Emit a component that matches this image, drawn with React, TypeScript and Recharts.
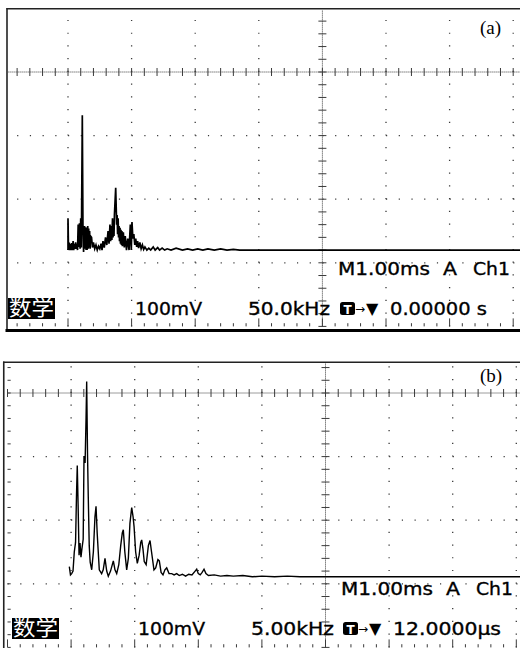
import React from 'react';
import { ComposedChart, Line, XAxis, YAxis, ReferenceLine } from 'recharts';

// horizontal position in screen divisions (0..10), level in divisions from the centre line
const freqA = [
  1.0, 1.0, 1.008, 1.02, 1.03, 1.04, 1.05, 1.06, 1.07, 1.08, 1.09, 1.1, 1.11, 1.12, 1.13, 1.14, 1.15, 1.16,
  1.17, 1.18, 1.19, 1.2, 1.21, 1.225, 1.235, 1.245, 1.255, 1.26, 1.27, 1.278, 1.285, 1.293, 1.3, 1.31,
  1.318, 1.325, 1.333, 1.34, 1.348, 1.355, 1.37, 1.385, 1.4, 1.42, 1.44, 1.46, 1.48, 1.5, 1.52, 1.535,
  1.55, 1.57, 1.59, 1.61, 1.63, 1.645, 1.66, 1.67, 1.68, 1.69, 1.7, 1.708, 1.715, 1.723, 1.73, 1.75,
  1.765, 1.772, 1.78, 1.788, 1.795, 1.803, 1.81, 1.818, 1.825, 1.833, 1.84, 1.848, 1.855, 1.87, 1.885,
  1.9, 1.92, 1.94, 1.96, 1.98, 1.995, 2.006, 2.02, 2.035, 2.05, 2.065, 2.08, 2.095, 2.11, 2.13, 2.15,
  2.17, 2.19, 2.21, 2.24, 2.27, 2.3, 2.34, 2.37, 2.41, 2.44, 2.48, 2.52, 2.56, 2.62, 2.7, 2.8,
  2.88, 2.96, 3.04, 3.12, 3.2, 3.3, 3.4, 3.5, 3.6, 3.7, 10,
];
const levelA = [
  -2.8, -2.3, -2.8, -2.68, -2.8, -2.7, -2.8, -2.69, -2.8, -2.66, -2.8, -2.7, -2.78, -2.68, -2.78, -2.7, -2.8, -2.4,
  -2.75, -2.38, -2.78, -2.3, -2.76, -0.68, -2.4, -2.83, -2.5, -2.42, -2.78, -2.44, -2.8, -2.45, -2.8, -2.42,
  -2.78, -2.46, -2.76, -2.5, -2.78, -2.58, -2.6, -2.76, -2.68, -2.78, -2.72, -2.8, -2.74, -2.78, -2.7, -2.8,
  -2.66, -2.76, -2.6, -2.72, -2.5, -2.7, -2.4, -2.66, -2.42, -2.64, -2.3, -2.6, -2.35, -2.58, -2.25, -1.82,
  -2.4, -2.25, -2.55, -2.3, -2.6, -2.42, -2.66, -2.45, -2.7, -2.48, -2.72, -2.5, -2.74, -2.52, -2.76,
  -2.58, -2.8, -2.62, -2.8, -2.4, -2.8, -2.36, -2.62, -2.55, -2.72, -2.62, -2.75, -2.66, -2.77, -2.68, -2.78,
  -2.72, -2.79, -2.75, -2.8, -2.77, -2.8, -2.75, -2.8, -2.76, -2.8, -2.77, -2.8, -2.78, -2.8, -2.77, -2.8,
  -2.78, -2.8, -2.78, -2.8, -2.78, -2.8, -2.78, -2.8, -2.79, -2.8, -2.8,
];

const freqB = [
  0.972, 0.99, 1.009, 1.03, 1.05, 1.07, 1.085, 1.097, 1.11, 1.125, 1.14, 1.155, 1.17, 1.19, 1.203,
  1.22, 1.235, 1.245, 1.258, 1.27, 1.285, 1.3, 1.324, 1.35, 1.375, 1.392, 1.41, 1.443, 1.48, 1.505,
  1.533, 1.56, 1.585, 1.62, 1.664, 1.69, 1.717, 1.75, 1.78, 1.805, 1.821, 1.845, 1.874, 1.9, 1.925,
  1.953, 1.975, 1.99, 2.015, 2.041, 2.07, 2.095, 2.11, 2.13, 2.15, 2.18, 2.215, 2.241, 2.265, 2.303,
  2.33, 2.365, 2.387, 2.415, 2.445, 2.475, 2.503, 2.54, 2.582, 2.62, 2.66, 2.7, 2.75, 2.8, 2.85,
  2.9, 2.95, 2.975, 3.0, 3.03, 3.06, 3.09, 3.12, 3.16, 3.25, 3.35, 3.45, 3.55, 3.7, 3.85, 4.0,
  4.2, 4.4, 4.6, 4.85, 10,
];
const levelB = [
  -2.73, -2.86, -2.84, -2.8, -2.5, -2.35, -1.6, -1.14, -1.75, -2.55, -2.36, -2.58, -2.45, -2.3, -0.99,
  -1.1, -0.4, 0.18, -0.95, -1.63, -2.4, -2.66, -2.78, -2.5, -1.95, -1.78, -2.2, -2.78, -2.84, -2.78,
  -2.6, -2.8, -2.88, -2.8, -2.64, -2.78, -2.84, -2.7, -2.4, -2.2, -2.15, -2.5, -2.78, -2.6, -2.05,
  -1.8, -1.95, -2.1, -2.5, -2.68, -2.55, -2.35, -2.31, -2.45, -2.65, -2.7, -2.4, -2.32, -2.5, -2.78,
  -2.75, -2.62, -2.64, -2.82, -2.86, -2.78, -2.75, -2.84, -2.84, -2.86, -2.84, -2.87, -2.85, -2.88, -2.85,
  -2.86, -2.8, -2.77, -2.84, -2.86, -2.82, -2.77, -2.84, -2.87, -2.86, -2.88, -2.87, -2.88, -2.87, -2.89, -2.88,
  -2.89, -2.88, -2.89, -2.89, -2.89,
];

// graticule
const majorX = [1, 2, 3, 4, 6, 7, 8, 9];
const majorY = [-1, -2, -3];
const subX = Array.from({ length: 51 }, (_, i) => i / 5);
const subY = Array.from({ length: 26 }, (_, i) => -4 + i / 5);

const DIV = 63.6;
const TICK = 4 / DIV;
const EDGE = 3.2 / DIV;
const GRID = '#3a3a3a';

type ScreenProps = {
  freq: number[];
  level: number[];
  left: number;
  top: number;
  trace: number;
  leftEdge?: boolean;
};

const Screen = ({ freq, level, left, top, trace, leftEdge }: ScreenProps) => {
  const data = freq.map((f, i) => ({ f, v: level[i] }));
  const w = 660;
  const h = 340;
  return (
    <ComposedChart
      width={w}
      height={h}
      data={data}
      margin={{ top, left, right: w - left - 10 * DIV, bottom: h - top - 5 * DIV }}
    >
      <XAxis type="number" dataKey="f" domain={[0, 10]} hide />
      <YAxis type="number" domain={[-4, 1]} hide allowDataOverflow />
      {majorX.map((x) => (
        <ReferenceLine key={'vx' + x} x={x} stroke={GRID} strokeWidth={1.3} strokeDasharray="1.2 11.52" />
      ))}
      {majorY.map((y) => (
        <ReferenceLine key={'hy' + y} y={y} stroke={GRID} strokeWidth={1.3} strokeDasharray="1.2 11.52" />
      ))}
      <ReferenceLine x={5} stroke={GRID} strokeWidth={1} strokeDasharray="1 1" />
      <ReferenceLine y={0} stroke={GRID} strokeWidth={1} strokeDasharray="1 1" />
      {subX.map((x) => (
        <ReferenceLine
          key={'tx' + x}
          segment={[{ x, y: -TICK }, { x, y: TICK }]}
          stroke={GRID}
          strokeWidth={1}
          ifOverflow="visible"
        />
      ))}
      {subY.map((y) => (
        <ReferenceLine
          key={'ty' + y}
          segment={[{ x: 5 - TICK, y }, { x: 5 + TICK, y }]}
          stroke={GRID}
          strokeWidth={1}
          ifOverflow="visible"
        />
      ))}
      {subX.map((x) => (
        <ReferenceLine
          key={'bx' + x}
          segment={[{ x, y: -4 }, { x, y: -4 + (Number.isInteger(x) ? 2.5 * EDGE : EDGE) }]}
          stroke={GRID}
          strokeWidth={1}
          ifOverflow="visible"
        />
      ))}
      {leftEdge &&
        subY.map((y) => (
          <ReferenceLine
            key={'ly' + y}
            segment={[{ x: 0, y }, { x: EDGE, y }]}
            stroke={GRID}
            strokeWidth={1}
            ifOverflow="visible"
          />
        ))}
      <Line
        type="linear"
        dataKey="v"
        stroke="#000"
        strokeWidth={trace}
        dot={false}
        isAnimationActive={false}
      />
    </ComposedChart>
  );
};

const scope = {
  fontFamily: '"DejaVu Sans", sans-serif',
  fontSize: 18,
  fill: '#000',
  stroke: '#000',
  strokeWidth: 0.35,
};

const Txt = ({ x, y, w, children }: { x: number; y: number; w: number; children: React.ReactNode }) => (
  <text x={x} y={y} textLength={w} lengthAdjust="spacingAndGlyphs" {...scope}>
    {children}
  </text>
);

type Readout = {
  dy: number;
  dx: number;
  labelY: number;
  freqText: string;
  freqW: number;
  trigText: string;
  trigW: number;
  label: string;
  boxX: number;
};

const Overlay = ({ dy, dx, labelY, freqText, freqW, trigText, trigW, label, boxX }: Readout) => (
  <g>
    <text x={480} y={labelY} fontFamily='"Liberation Serif", serif' fontSize={19} fill="#000">
      {label}
    </text>
    <Txt x={338 + dx} y={275 + dy} w={92}>M1.00ms</Txt>
    <Txt x={443 + dx} y={275 + dy} w={14}>A</Txt>
    <Txt x={473 + dx} y={275 + dy} w={37}>Ch1</Txt>
    <rect x={boxX} y={298 + dy} width={47} height={21} fill="#000" />
    <text
      x={boxX + 1}
      y={315 + dy}
      fontFamily='"Noto Sans CJK SC", sans-serif'
      fontSize={21}
      fill="#fff"
      textLength={45}
      lengthAdjust="spacingAndGlyphs"
    >
      数学
    </text>
    <Txt x={135 + dx} y={315 + dy} w={67}>100mV</Txt>
    <Txt x={248 + dx} y={315 + dy} w={freqW}>{freqText}</Txt>
    <rect x={340 + dx} y={302 + dy} width={15} height={13} rx={2.5} fill="#000" />
    <text
      x={347.5 + dx}
      y={313.5 + dy}
      textAnchor="middle"
      fontFamily='"DejaVu Sans", sans-serif'
      fontWeight="bold"
      fontSize={12}
      fill="#fff"
    >
      T
    </text>
    <text x={355 + dx} y={313 + dy} fontFamily='"DejaVu Sans", sans-serif' fontSize={12} fill="#000">
      →
    </text>
    <text x={366 + dx} y={314 + dy} fontFamily='"DejaVu Sans", sans-serif' fontSize={16} fill="#000">
      ▼
    </text>
    <Txt x={390 + dx} y={315 + dy} w={trigW}>{trigText}</Txt>
  </g>
);

export default function App() {
  return (
    <div
      style={{
        position: 'absolute',
        left: 0,
        top: 0,
        width: 520,
        height: 648,
        overflow: 'hidden',
        background: '#fff',
      }}
    >
      <div style={{ position: 'absolute', left: 7.5, top: 9.5, width: 512.5, height: 319.5, overflow: 'hidden' }}>
        <div style={{ position: 'absolute', left: -7.5, top: -9.5 }}>
          <Screen freq={freqA} level={levelA} left={4.4} top={8.4} trace={1.7} />
        </div>
      </div>
      <div style={{ position: 'absolute', left: 4.5, top: 363, width: 515.5, height: 285, overflow: 'hidden' }}>
        <div style={{ position: 'absolute', left: -4.5, top: -43 }}>
          <Screen freq={freqB} level={levelB} left={7.5} top={9.4} trace={1.4} leftEdge />
        </div>
      </div>
      <svg
        width={520}
        height={648}
        style={{ position: 'absolute', left: 0, top: 0, pointerEvents: 'none' }}
      >
        <line x1={6.5} y1={8.75} x2={520} y2={8.75} stroke="#222" strokeWidth={1.6} />
        <line x1={7} y1={8} x2={7} y2={330} stroke="#222" strokeWidth={1.6} />
        <line x1={5.5} y1={330.5} x2={520} y2={330.5} stroke="#000" strokeWidth={3} />
        <line x1={3} y1={362.25} x2={520} y2={362.25} stroke="#222" strokeWidth={1.6} />
        <line x1={3.75} y1={361.5} x2={3.75} y2={648} stroke="#222" strokeWidth={1.6} />
        <Overlay dy={0} dx={0} labelY={34} freqText="50.0kHz" freqW={82} trigText="0.00000 s" trigW={97} label="(a)" boxX={8} />
        <Overlay dy={320} dx={3} labelY={382} freqText="5.00kHz" freqW={83} trigText="12.0000μs" trigW={108} label="(b)" boxX={12} />
      </svg>
    </div>
  );
}
